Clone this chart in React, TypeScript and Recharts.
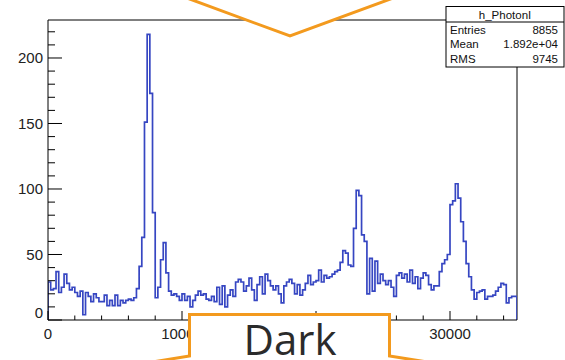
import React from "react";
import { Line, LineChart, ReferenceLine, XAxis, YAxis } from "recharts";

// histogram binning: 175 bins of 200 over [0, 35000]
const X_MIN = 0;
const X_MAX = 35000;
const BIN_WIDTH = 200;
const Y_MAX = 229;

const counts = [
  29, 23, 24, 37, 21, 25, 35, 28, 23, 25, 21, 18, 22, 4, 21, 18, 14, 20, 17, 14,
  14, 19, 11, 15, 11, 19, 11, 15, 13, 15, 16, 15, 17, 24, 41, 63, 151, 218, 173, 82,
  17, 25, 46, 59, 36, 22, 19, 20, 18, 15, 20, 15, 18, 10, 15, 19, 22, 19, 20, 16,
  15, 18, 14, 25, 12, 26, 10, 19, 23, 18, 29, 31, 29, 22, 26, 32, 23, 15, 27, 33,
  20, 35, 30, 26, 23, 26, 20, 13, 26, 29, 31, 28, 20, 27, 19, 23, 28, 34, 27, 29,
  30, 38, 29, 34, 32, 33, 35, 37, 38, 44, 53, 51, 42, 41, 70, 99, 95, 65, 60, 20,
  47, 22, 45, 28, 35, 30, 27, 30, 25, 18, 34, 36, 32, 35, 29, 38, 28, 33, 24, 32,
  36, 34, 27, 23, 26, 26, 37, 43, 46, 50, 88, 91, 104, 93, 75, 60, 43, 33, 23, 16,
  21, 22, 23, 16, 18, 18, 19, 22, 25, 28, 27, 13, 17, 18, 18,
];

const xMajorTicks = [0, 10000, 20000, 30000];
const yMajorTicks = [0, 50, 100, 150, 200];
const xMinorStep = 2000;
const yMinorStep = 10;

const histName = "h_PhotonI";
const statsRows = [
  ["Entries", "8855"],
  ["Mean", "1.892e+04"],
  ["RMS", "9745"],
];
const calloutText = "Dark";

// chart geometry
const W = 565;
const H = 360;
const MARGIN = { top: 20, right: 48, bottom: 0, left: 0 };
const Y_AXIS_W = 48;
const X_AXIS_H = 40;
const PLOT_LEFT = MARGIN.left + Y_AXIS_W;
const PLOT_BOTTOM = H - MARGIN.bottom - X_AXIS_H;

const FONT = "'Liberation Sans', Arial, Helvetica, sans-serif";
const HIST_BLUE = "#3646c2";
const ORANGE = "#f39a1e";

// step outline closed down to zero at both ends, like a ROOT "HIST" draw
const histData = [
  { x: X_MIN, n: 0 },
  ...counts.map((n, i) => ({ x: X_MIN + i * BIN_WIDTH, n })),
  { x: X_MAX, n: counts[counts.length - 1] },
  { x: X_MAX, n: 0 },
];

const xTicks: number[] = [];
for (let v = X_MIN; v < X_MAX; v += xMinorStep) xTicks.push(v);
const yTicks: number[] = [];
for (let v = 0; v <= Y_MAX; v += yMinorStep) yTicks.push(v);

function XTick(props: any) {
  const { x, payload } = props;
  const major = xMajorTicks.includes(payload.value);
  return (
    <g>
      <line x1={x} x2={x} y1={PLOT_BOTTOM} y2={PLOT_BOTTOM - (major ? 9 : 4.5)} stroke="#000" strokeWidth={1} />
      {major && (
        <text x={x} y={PLOT_BOTTOM + 19} textAnchor="middle" fontSize={15} fontFamily={FONT} fill="#222">
          {payload.value}
        </text>
      )}
    </g>
  );
}

function YTick(props: any) {
  const { y, payload } = props;
  const major = yMajorTicks.includes(payload.value);
  // ROOT lifts the zero label so it clears the x-axis one
  const labelY = payload.value === 0 ? y - 7 : y;
  return (
    <g>
      <line x1={PLOT_LEFT} x2={PLOT_LEFT + (major ? 14 : 7)} y1={y} y2={y} stroke="#000" strokeWidth={1} />
      {major && (
        <text x={PLOT_LEFT - 5} y={labelY + 5.4} textAnchor="end" fontSize={15} fontFamily={FONT} fill="#222">
          {payload.value}
        </text>
      )}
    </g>
  );
}

function StatsBox() {
  const left = 446;
  const right = 564;
  return (
    <g fontFamily={FONT} fontSize={11.5} fill="#111">
      <rect x={left} y={6.5} width={right - left} height={60.5} fill="#fff" stroke="#000" strokeWidth={1} />
      <line x1={left} x2={right} y1={22} y2={22} stroke="#000" strokeWidth={1} />
      <text x={(left + right) / 2} y={18.5} textAnchor="middle">
        {histName}
      </text>
      {statsRows.map(([label, value], i) => (
        <g key={label}>
          <text x={left + 4} y={33.5 + i * 14.5}>
            {label}
          </text>
          <text x={right - 6} y={33.5 + i * 14.5} textAnchor="end">
            {value}
          </text>
        </g>
      ))}
    </g>
  );
}

function Callouts() {
  return (
    <g>
      {/* arrow head coming down from above */}
      <polygon points="176,-6 290,36 404,-6" fill="#fff" stroke={ORANGE} strokeWidth={3} strokeLinejoin="miter" />
      {/* label box with arrow shoulders below */}
      <path
        d="M 140 364 L 189.5 356 L 189.5 314.5 L 389.5 314.5 L 389.5 356 L 440 364 L 440 380 L 140 380 Z"
        fill="#fff"
        stroke={ORANGE}
        strokeWidth={3}
      />
      <text
        x={290}
        y={355}
        textAnchor="middle"
        fontSize={42}
        fontFamily="'Open Sans', 'Noto Sans', sans-serif"
        fill="#2b2b2b"
      >
        {calloutText}
      </text>
    </g>
  );
}

export default function App() {
  return (
    <div style={{ position: "absolute", left: 0, top: 0, width: W, height: H, background: "#fff", overflow: "hidden" }}>
      <LineChart width={W} height={H} data={histData} margin={MARGIN}>
        <XAxis
          dataKey="x"
          type="number"
          domain={[X_MIN, X_MAX]}
          ticks={xTicks}
          interval={0}
          height={X_AXIS_H}
          tickLine={false}
          axisLine={{ stroke: "#000", strokeWidth: 1 }}
          tick={(p: any) => <XTick {...p} />}
          allowDataOverflow
        />
        <YAxis
          type="number"
          domain={[0, Y_MAX]}
          ticks={yTicks}
          interval={0}
          width={Y_AXIS_W}
          tickLine={false}
          axisLine={{ stroke: "#000", strokeWidth: 1 }}
          tick={(p: any) => <YTick {...p} />}
          allowDataOverflow
        />
        <ReferenceLine y={Y_MAX} stroke="#000" strokeWidth={1} />
        <ReferenceLine x={X_MAX} stroke="#000" strokeWidth={1} />
        <Line
          type="stepAfter"
          dataKey="n"
          stroke={HIST_BLUE}
          strokeWidth={1.7}
          dot={false}
          activeDot={false}
          isAnimationActive={false}
        />
      </LineChart>
      <svg width={W} height={H} style={{ position: "absolute", left: 0, top: 0, pointerEvents: "none" }}>
        <StatsBox />
        <Callouts />
      </svg>
    </div>
  );
}
